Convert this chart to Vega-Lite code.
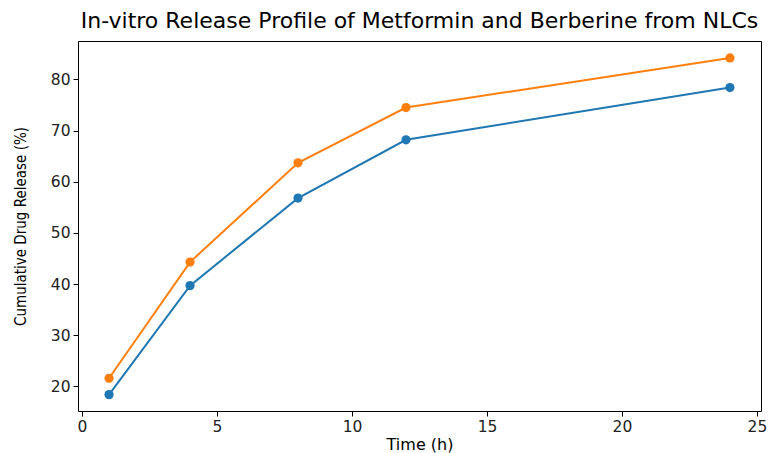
{
  "$schema": "https://vega.github.io/schema/vega-lite/v6.json",
  "width": 683,
  "height": 370,
  "autosize": {"type": "none"},
  "padding": {"left": 78, "top": 41, "right": 10, "bottom": 42},
  "background": "white",
  "title": {
    "text": "In-vitro Release Profile of Metformin and Berberine from NLCs",
    "font": "DejaVu Sans",
    "fontSize": 22,
    "fontWeight": "normal",
    "color": "black",
    "anchor": "middle",
    "offset": 8
  },
  "config": {
    "view": {"stroke": "black", "strokeWidth": 1},
    "axis": {
      "domain": false,
      "grid": false,
      "ticks": true,
      "tickColor": "black",
      "tickSize": 5,
      "labelFont": "DejaVu Sans",
      "labelFontSize": 15.5,
      "labelColor": "#222222",
      "labelPadding": 3,
      "titleFontWeight": "normal",
      "titleColor": "black"
    }
  },
  "data": {
    "values": [
      {"time": 1, "release": 18.4, "drug": "Metformin"},
      {"time": 4, "release": 39.7, "drug": "Metformin"},
      {"time": 8, "release": 56.8, "drug": "Metformin"},
      {"time": 12, "release": 68.2, "drug": "Metformin"},
      {"time": 24, "release": 78.4, "drug": "Metformin"},
      {"time": 1, "release": 21.6, "drug": "Berberine"},
      {"time": 4, "release": 44.3, "drug": "Berberine"},
      {"time": 8, "release": 63.7, "drug": "Berberine"},
      {"time": 12, "release": 74.5, "drug": "Berberine"},
      {"time": 24, "release": 84.2, "drug": "Berberine"}
    ]
  },
  "mark": {
    "type": "line",
    "strokeWidth": 2,
    "point": {"filled": true, "size": 85, "opacity": 1}
  },
  "encoding": {
    "x": {
      "field": "time",
      "type": "quantitative",
      "scale": {"domain": [-0.15, 25.15], "nice": false, "zero": false},
      "axis": {
        "values": [0, 5, 10, 15, 20, 25],
        "title": "Time (h)",
        "titleFont": "DejaVu Sans",
        "titleFontSize": 16,
        "titlePadding": 2
      }
    },
    "y": {
      "field": "release",
      "type": "quantitative",
      "scale": {"domain": [15.2, 87.5], "nice": false, "zero": false},
      "axis": {
        "values": [20, 30, 40, 50, 60, 70, 80],
        "title": "Cumulative Drug Release (%)",
        "titleFont": "DejaVu Sans Condensed, Liberation Sans Narrow, DejaVu Sans",
        "titleFontSize": 15,
        "titlePadding": 22
      }
    },
    "color": {
      "field": "drug",
      "type": "nominal",
      "scale": {"domain": ["Metformin", "Berberine"], "range": ["#1f77b4", "#ff7f0e"]},
      "legend": null
    }
  }
}
